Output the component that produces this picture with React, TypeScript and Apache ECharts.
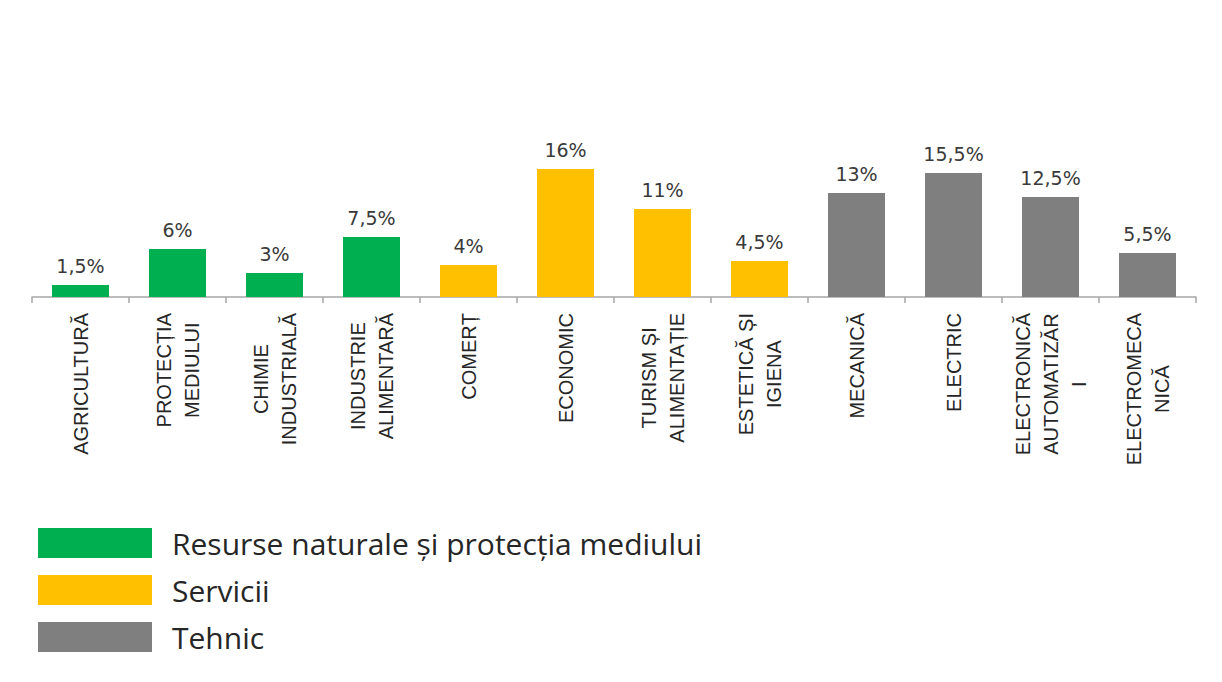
import React, { useEffect, useRef } from "react";
import * as echarts from "echarts";

const categories = [
  "AGRICULTURĂ",
  "PROTECȚIA\nMEDIULUI",
  "CHIMIE\nINDUSTRIALĂ",
  "INDUSTRIE\nALIMENTARĂ",
  "COMERȚ",
  "ECONOMIC",
  "TURISM ȘI\nALIMENTAȚIE",
  "ESTETICĂ ȘI\nIGIENA",
  "MECANICĂ",
  "ELECTRIC",
  "ELECTRONICĂ\nAUTOMATIZĂR\nI",
  "ELECTROMECA\nNICĂ",
];
const values = [1.5, 6, 3, 7.5, 4, 16, 11, 4.5, 13, 15.5, 12.5, 5.5];
// group index of each category
const groups = [0, 0, 0, 0, 1, 1, 1, 1, 2, 2, 2, 2];
const groupNames = ["Resurse naturale și protecția mediului", "Servicii", "Tehnic"];
const groupColors = ["#00B050", "#FFC000", "#7F7F7F"];

export default function App() {
  const ref = useRef<HTMLDivElement>(null);
  useEffect(() => {
    document.body.style.margin = "0";
    const chart = echarts.init(ref.current!, null, { renderer: "svg" });
    chart.setOption({
      animation: false,
      backgroundColor: "#ffffff",
      grid: { left: 32, right: 26, top: 137, bottom: 385 },
      legend: {
        orient: "vertical",
        left: 38,
        top: 528,
        padding: 0,
        itemWidth: 114,
        itemHeight: 30,
        itemGap: 17,
        icon: "rect",
        selectedMode: false,
        textStyle: {
          fontFamily: "Open Sans",
          fontSize: 30,
          lineHeight: 30,
          color: "#262626",
          padding: [0, 0, 0, 15],
        },
        data: groupNames,
      },
      xAxis: {
        type: "category",
        data: categories,
        axisLine: { lineStyle: { color: "#a6a6a6", width: 1.5 } },
        axisTick: { show: true, length: 6, lineStyle: { color: "#a6a6a6", width: 1.5 } },
        axisLabel: {
          rotate: 90,
          interval: 0,
          margin: 16,
          fontFamily: "Liberation Sans",
          fontSize: 20,
          lineHeight: 28,
          color: "#262626",
          formatter: (v: string) =>
            v
              .split("\n")
              .map((l) => `{c|${l}}`)
              .join("\n"),
          rich: {
            c: {
              align: "center",
              fontFamily: "Liberation Sans",
              fontSize: 20,
              lineHeight: 28,
              color: "#262626",
            },
          },
        },
      },
      yAxis: { type: "value", min: 0, max: 20, show: false },
      series: groupNames.map((name, g) => ({
        name,
        type: "bar",
        barWidth: 57,
        barGap: "-100%",
        itemStyle: { color: groupColors[g] },
        label: {
          show: true,
          position: "top",
          distance: 10,
          fontFamily: "DejaVu Sans",
          fontSize: 19,
          color: "#3a3a3a",
          formatter: (p: any) => String(p.value).replace(".", ",") + "%",
        },
        data: values.map((v, i) => (groups[i] === g ? v : "-")),
      })),
    });
    return () => chart.dispose();
  }, []);
  return <div ref={ref} style={{ width: 1222, height: 682 }} />;
}
